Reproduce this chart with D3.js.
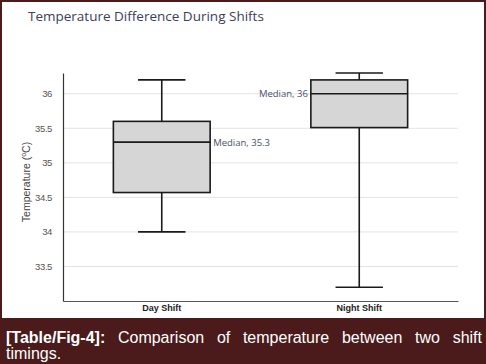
<!DOCTYPE html>
<html>
<head>
<meta charset="utf-8">
<script src="https://cdn.jsdelivr.net/npm/d3@7"></script>
<style>
  body { margin: 0; background: #fff; }
  svg { display: block; }
</style>
</head>
<body>
<svg width="486" height="364"></svg>
<script>
// data
var shifts = ['Day Shift', 'Night Shift'];
var whiskerLow = [34.0, 33.2];
var boxLow = [34.57, 35.51];
var medians = [35.3, 36.0];
var boxHigh = [35.6, 36.2];
var whiskerHigh = [36.2, 36.3];
var yTicks = [33.5, 34, 34.5, 35, 35.5, 36];
var medianLabels = ['Median, 35.3', 'Median, 36'];

function drawBoxChart() {
  var svg = d3.select('svg');
  svg.selectAll('*').remove();

  // frame and caption band
  svg.append('rect')
    .attr('x', 0).attr('y', 0).attr('width', 486).attr('height', 364)
    .attr('fill', '#4b1b1b');
  svg.append('rect')
    .attr('x', 2).attr('y', 2).attr('width', 482).attr('height', 316)
    .attr('fill', '#ffffff');

  svg.append('text')
    .attr('x', 28).attr('y', 21)
    .attr('font-family', 'Open Sans')
    .attr('font-size', 13.5)
    .attr('fill', '#3b4058')
    .text('Temperature Difference During Shifts');

  var x = d3.scaleBand()
    .domain(shifts)
    .range([63, 458]);
  var y = d3.scaleLinear()
    .domain([33, 36.3])
    .range([301, 73]);

  var g = svg.append('g');

  // grid
  g.selectAll('line.grid')
    .data(yTicks)
    .enter()
    .append('line')
    .attr('class', 'grid')
    .attr('x1', 63).attr('x2', 458)
    .attr('y1', function (d) { return y(d); })
    .attr('y2', function (d) { return y(d); })
    .attr('stroke', '#e3e3e3')
    .attr('stroke-width', 1);

  // y axis
  var yAxis = g.append('g')
    .attr('transform', 'translate(63,0)')
    .call(d3.axisLeft(y).tickValues(yTicks).tickSize(0).tickPadding(11).tickFormat(d3.format('')));
  yAxis.select('.domain').attr('stroke', '#333').attr('stroke-width', 1.2);
  yAxis.selectAll('text')
    .attr('font-family', 'Liberation Sans')
    .attr('font-size', 9.5)
    .attr('letter-spacing', -0.4)
    .attr('fill', '#555');

  // x axis
  var xAxis = g.append('g')
    .attr('transform', 'translate(0,301)')
    .call(d3.axisBottom(x).tickSize(0).tickPadding(4));
  xAxis.select('.domain').attr('stroke', '#555').attr('stroke-width', 1);
  xAxis.selectAll('text')
    .attr('font-family', 'Liberation Sans')
    .attr('font-weight', 'bold')
    .attr('font-size', 9)
    .attr('fill', '#222');

  var yTitle = g.append('text')
    .attr('transform', 'translate(30,182) rotate(-90)')
    .attr('text-anchor', 'middle')
    .attr('font-family', 'Liberation Sans')
    .attr('font-size', 10.5)
    .attr('fill', '#444');
  yTitle.append('tspan').text('Temperature (');
  yTitle.append('tspan').attr('dy', -4).attr('font-size', 7).text('o');
  yTitle.append('tspan').attr('dy', 4).text('C)');

  var boxW = x.bandwidth() * 0.49;
  var capW = x.bandwidth() * 0.24;
  var boxes = g.selectAll('g.box')
    .data(shifts)
    .enter()
    .append('g')
    .attr('class', 'box');

  boxes.append('line')
    .attr('x1', function (d) { return x(d) + x.bandwidth() / 2; })
    .attr('x2', function (d) { return x(d) + x.bandwidth() / 2; })
    .attr('y1', function (d, i) { return y(whiskerLow[i]); })
    .attr('y2', function (d, i) { return y(whiskerHigh[i]); })
    .attr('stroke', '#1a1a1a').attr('stroke-width', 1.6);
  [whiskerLow, whiskerHigh].forEach(function (arr) {
    boxes.append('line')
      .attr('x1', function (d) { return x(d) + x.bandwidth() / 2 - capW / 2; })
      .attr('x2', function (d) { return x(d) + x.bandwidth() / 2 + capW / 2; })
      .attr('y1', function (d, i) { return y(arr[i]); })
      .attr('y2', function (d, i) { return y(arr[i]); })
      .attr('stroke', '#1a1a1a').attr('stroke-width', 1.6);
  });
  boxes.append('rect')
    .attr('x', function (d) { return x(d) + x.bandwidth() / 2 - boxW / 2; })
    .attr('y', function (d, i) { return y(boxHigh[i]); })
    .attr('width', boxW)
    .attr('height', function (d, i) { return y(boxLow[i]) - y(boxHigh[i]); })
    .attr('fill', '#d6d6d6')
    .attr('stroke', '#1a1a1a').attr('stroke-width', 1.6);
  boxes.append('line')
    .attr('x1', function (d) { return x(d) + x.bandwidth() / 2 - boxW / 2; })
    .attr('x2', function (d) { return x(d) + x.bandwidth() / 2 + boxW / 2; })
    .attr('y1', function (d, i) { return y(medians[i]); })
    .attr('y2', function (d, i) { return y(medians[i]); })
    .attr('stroke', '#1a1a1a').attr('stroke-width', 1.6);

  // median labels: day on the right of the box, night on the left
  boxes.append('text')
    .attr('x', function (d, i) {
      var c = x(d) + x.bandwidth() / 2;
      return i === 0 ? c + boxW / 2 + 3 : c - boxW / 2 - 3;
    })
    .attr('y', function (d, i) { return y(medians[i]) + 3.5; })
    .attr('text-anchor', function (d, i) { return i === 0 ? 'start' : 'end'; })
    .attr('font-family', 'Open Sans')
    .attr('font-size', 9.5)
    .attr('fill', '#4a4f68')
    .text(function (d, i) { return medianLabels[i]; });

  // caption, first line justified
  var words = ['[Table/Fig-4]:', 'Comparison', 'of', 'temperature', 'between', 'two', 'shift'];
  var cap = svg.append('g')
    .attr('font-family', 'Liberation Sans')
    .attr('font-size', 16)
    .attr('fill', '#ffffff');
  var nodes = cap.selectAll('text.w')
    .data(words)
    .enter()
    .append('text')
    .attr('class', 'w')
    .attr('y', 343)
    .attr('font-weight', function (d, i) { return i === 0 ? 'bold' : 'normal'; })
    .text(function (d) { return d; });
  var widths = [];
  nodes.each(function () { widths.push(this.getComputedTextLength()); });
  var left = 6, right = 482;
  var gap = (right - left - d3.sum(widths)) / (words.length - 1);
  var pos = left;
  nodes.attr('x', function (d, i) {
    var p = pos;
    pos += widths[i] + gap;
    return p;
  });
  cap.append('text')
    .attr('x', left).attr('y', 359)
    .text('timings.');
}

drawBoxChart();
</script>
</body>
</html>
